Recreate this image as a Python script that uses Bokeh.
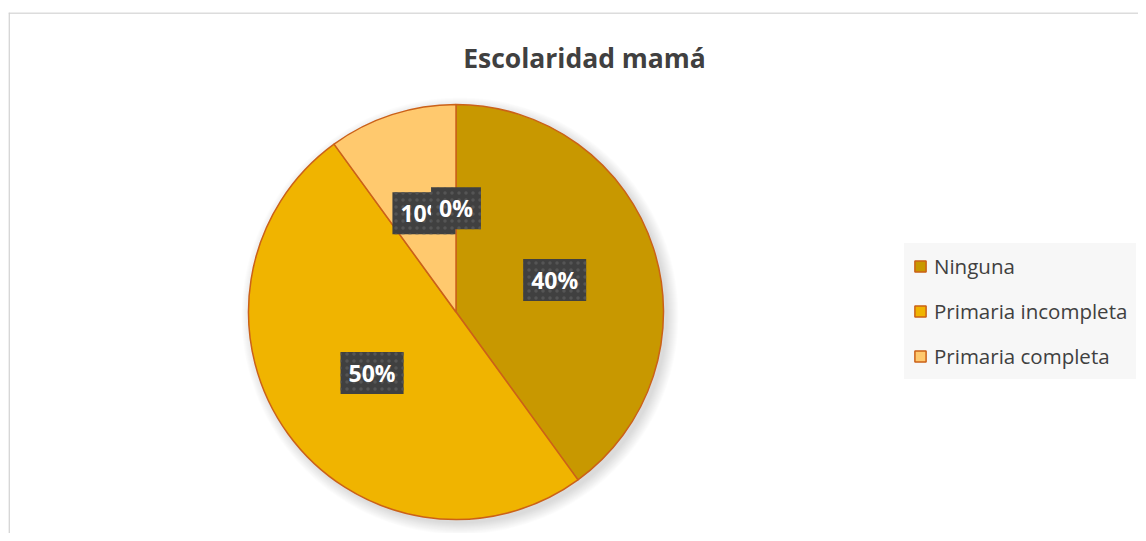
import math
from bokeh.plotting import figure
from bokeh.models import Range1d, Label, Legend, LegendItem, Span
from bokeh.embed import file_html
from bokeh.resources import INLINE

# ---- data ----
title_text = "Escolaridad mamá"
categories = ["Ninguna", "Primaria incompleta", "Primaria completa", "Otra"]
percent_values = [40, 50, 10, 0]
legend_categories = ["Ninguna", "Primaria incompleta", "Primaria completa"]
slice_colors = ["#C89800", "#F0B400", "#FFC96E", "#FFE0A0"]

# ---- layout (pixel-based data space) ----
W, H = 1138, 533
LEFT, TOP = 8, 12
FW, FH = W - LEFT, H - TOP
def px(x):
    return x - LEFT
def py(y):
    return H - y

cx, cy, R = px(455.5), py(311.5), 207.5

p = figure(width=W, height=H, output_backend="svg", toolbar_location=None,
           x_range=Range1d(0, FW), y_range=Range1d(0, FH),
           min_border_left=LEFT, min_border_right=0, min_border_bottom=0,
           min_border_top=TOP)
p.axis.visible = False
p.grid.visible = False
p.outline_line_color = None
p.background_fill_color = "white"
p.border_fill_color = "white"

# chart frame border (left and top only visible)
p.add_layout(Span(location=0.6, dimension="height", line_color="#D0D0D0", line_width=1.5))
p.add_layout(Span(location=FH - 0.6, dimension="width", line_color="#D0D0D0", line_width=1.5))

# soft pie shadow (lower right)
for k in range(12):
    p.circle(x=[cx + 4], y=[cy - 4], radius=R + k, fill_color="black",
             fill_alpha=0.012, line_color=None)

total = float(sum(percent_values))
renderers = []
cum = 0.0
mids = []
for cat, v, col in zip(categories, percent_values, slice_colors):
    frac0 = cum / total
    frac1 = (cum + v) / total
    start = math.pi / 2 - 2 * math.pi * frac0
    end = math.pi / 2 - 2 * math.pi * frac1
    mids.append(math.pi / 2 - 2 * math.pi * (frac0 + frac1) / 2)
    if v > 0:
        r = p.wedge(x=[cx], y=[cy], radius=R, start_angle=start, end_angle=end,
                    direction="clock", fill_color=col, line_color="#CB6118",
                    line_width=1.5)
    else:
        r = None
    renderers.append(r)
    cum += v

# data labels
pad = {"left": 8, "right": 8, "top": 5, "bottom": 5}
for cat, v, m in zip(categories, percent_values, mids):
    lx = cx + 0.5 * R * math.cos(m)
    ly = cy + 0.5 * R * math.sin(m)
    txt = f"{v}%"
    shadow = Label(x=lx, y=ly, text=txt, x_offset=3, y_offset=-3,
                   text_align="center", text_baseline="middle",
                   text_font="Open Sans", text_font_style="bold",
                   text_font_size="23px", text_alpha=0.0,
                   background_fill_color="black", background_fill_alpha=0.22,
                   padding=pad)
    lab = Label(x=lx, y=ly, text=txt,
                text_align="center", text_baseline="middle",
                text_font="Open Sans", text_font_style="bold",
                text_font_size="23px", text_color="white",
                background_fill_color="#404040", padding=pad,
                background_hatch_pattern=".", background_hatch_color="#555555",
                background_hatch_scale=7, background_hatch_weight=1.0)
    p.add_layout(shadow)
    p.add_layout(lab)

# title
p.add_layout(Label(x=px(584), y=py(57), text=title_text, text_align="center",
                   text_baseline="middle", text_font="Open Sans",
                   text_font_style="bold", text_font_size="26.5px",
                   text_color="#404040"))

# legend
items = []
for i, cat in enumerate(categories):
    if cat in legend_categories and renderers[i] is not None:
        items.append(LegendItem(label=cat, renderers=[renderers[i]]))
legend = Legend(items=items, location=(px(904), H - 379), orientation="vertical",
                background_fill_color="#F7F7F7", background_fill_alpha=1.0,
                border_line_alpha=0, padding=9, spacing=17,
                label_height=24, glyph_height=14, glyph_width=14,
                label_standoff=7, margin=0,
                label_text_font="Open Sans", label_text_font_size="20.5px",
                label_text_color="#404040")
p.add_layout(legend)

open("out.html", "w").write(file_html(p, INLINE))
